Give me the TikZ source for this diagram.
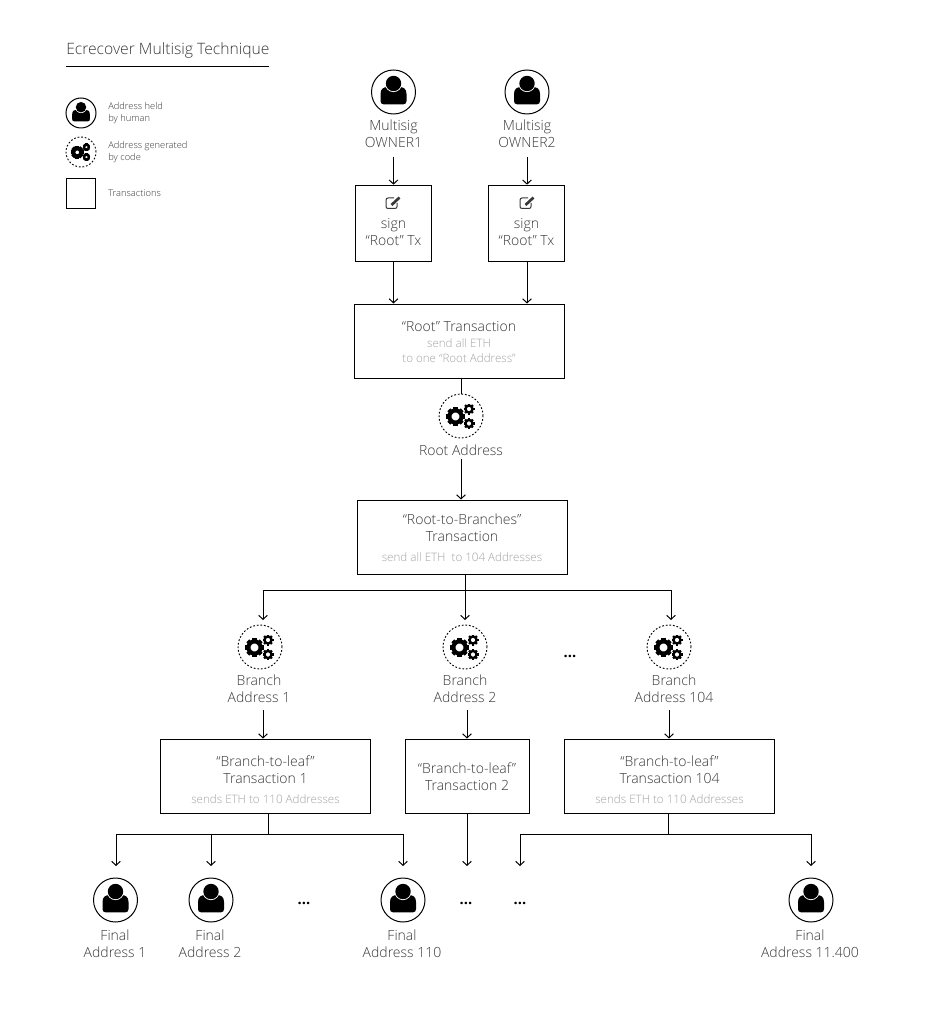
\documentclass[tikz,border=0pt]{standalone}
\usepackage{fontspec}
\setmainfont{Open Sans Light}
\newfontfamily\dotsfont{Open Sans Bold}
\usetikzlibrary{arrows.meta,positioning,calc}
\definecolor{inkgray}{HTML}{383838}
\definecolor{subgray}{HTML}{A4A4A4}
\newcommand{\drawcog}[3]{%
  \draw[line width=#3*0.32pt,black] (#1,#2) circle ({#3*0.64});
  \foreach \toothang in {0,45,...,315}
    \draw[line width=#3*0.32pt,black] ([shift={(\toothang:#3*0.7)}]#1,#2) -- ([shift={(\toothang:#3)}]#1,#2);
}
\tikzset{
    x=0.75pt, y=-0.75pt,
    >={Straight Barb[length=3pt,width=6.5pt]},
    every node/.style={text=inkgray,font=\fontsize{10.5}{12.75}\selectfont,inner sep=0pt,align=center},
    linksty/.style={line width=0.75pt},
    txsty/.style={draw=black,line width=0.75pt,rectangle,fill=white,anchor=center},
    humansty/.style={draw=black,line width=0.75pt,circle,minimum size=33pt},
    codesty/.style={draw=black,line width=0.7pt,circle,minimum size=33pt,dash pattern=on 1.3pt off 1.4pt},
    smallsty/.style={minimum size=22.5pt},
    keysty/.style={anchor=west,text=inkgray,font=\fontsize{7}{9}\selectfont},
    dotssty/.style={font=\dotsfont\fontsize{11}{12}\selectfont,text=black},
    humanicon/.pic={
      \fill[black] (-10,12.3) .. controls (-12,12.3) and (-13,11) .. (-13,9) -- (-13,2) .. controls (-13,-3) and (-10,-5) .. (-6,-5) -- (6,-5) .. controls (10,-5) and (13,-3) .. (13,2) -- (13,9) .. controls (13,11) and (12,12.3) .. (10,12.3) -- cycle;
      \fill[white] (0,-8.5) circle (8.6);
      \fill[black] (0,-8.5) circle (7.7);
    },
    gearicon/.pic={
      \drawcog{-5.5}{0.5}{9.5}
      \drawcog{8}{-7}{5.5}
      \drawcog{8}{7.5}{5.5}
    },
    editicon/.pic={
      \draw[line width=0.75pt,inkgray,rounded corners=1.5] (1,-5) -- (-7,-5) -- (-7,5.5) -- (4,5.5) -- (4,0);
      \draw[line width=2pt,inkgray] (-1.5,2) -- (6.5,-5.5);
    },
}
\newcommand{\sublabel}[1]{{\color{subgray}\fontsize{8.7}{11}\selectfont #1}}
\begin{document}
\begin{tikzpicture}
  \useasboundingbox (0,0) rectangle (945,1030);

  % heading and key
  \node (title) [anchor=west,font=\fontsize{11.75}{14}\selectfont] at (66,50) {Ecrecover Multisig Technique};
  \coordinate (ruleL) at (66,67);
  \coordinate (ruleR) at (269,67);
  \draw[linksty] (ruleL) -- (ruleR);
  \node (keyhuman) [humansty,smallsty] at (81,113) {};
  \pic[scale=0.68] at (keyhuman) {humanicon};
  \node (keycode) [codesty,smallsty] at (81,152) {};
  \pic[scale=0.68] at (keycode) {gearicon};
  \node (keytx) [txsty,minimum size=22pt] at (81,193.5) {};
  \node (keyhumantxt) [keysty,align=left] at (108,113.5) {Address held\\by human};
  \node (keycodetxt) [keysty,align=left] at (108,152.5) {Address generated\\by code};
  \node (keytxtxt) [keysty] at (108,193) {Transactions};

  % owners
  \node (ownerA) [humansty] at (393.5,92) {};
  \pic at (ownerA) {humanicon};
  \node (ownerB) [humansty] at (527,92) {};
  \pic at (ownerB) {humanicon};
  \node (ownerAtxt) at (393.5,133.5) {Multisig\\OWNER1};
  \node (ownerBtxt) at (527,133.5) {Multisig\\OWNER2};
  \node (signA) [txsty,minimum width=57.5pt,minimum height=57.5pt] at (393.5,223.5) {};
  \node (signB) [txsty,minimum width=57.5pt,minimum height=57.5pt] at (526.5,223.5) {};
  \pic at (393,203) {editicon};
  \pic at (527,203) {editicon};
  \node (signAtxt) at (393.5,231.8) {sign\\“Root” Tx};
  \node (signBtxt) at (526.5,231.8) {sign\\“Root” Tx};

  % root
  \node (roottx) [txsty,minimum width=157.5pt,minimum height=55.5pt] at (459,341) {};
  \node (roottxtxt) at (459,342) {“Root” Transaction\\[-0.5pt]\sublabel{send all ETH}\\[-1.5pt]\sublabel{to one “Root Address”}};
  \node (rootaddr) [codesty] at (461,416) {};
  \pic at (rootaddr) {gearicon};
  \node (rootaddrtxt) at (461,450) {Root Address};
  \node (r2btx) [txsty,minimum width=157.5pt,minimum height=55.5pt] at (462,537) {};
  \node (r2btxtxt) at (462,537.5) {“Root-to-Branches”\\Transaction\\[2.5pt]\sublabel{send all ETH\ \ to 104 Addresses}};

  % branches
  \node (gearA) [codesty] at (260,647) {};
  \pic at (gearA) {gearicon};
  \node (gearB) [codesty] at (465,647) {};
  \pic at (gearB) {gearicon};
  \node (gearC) [codesty] at (669,647) {};
  \pic at (gearC) {gearicon};
  \node (gearAtxt) at (259,688.5) {Branch\\Address 1};
  \node (gearBtxt) at (465,688.5) {Branch\\Address 2};
  \node (gearCtxt) at (674,688.5) {Branch\\Address 104};
  \node (gearDots) [dotssty] at (570,656) {...};

  \node (leafA) [txsty,minimum width=158pt,minimum height=55.5pt] at (265.5,776) {};
  \node (leafAtxt) at (265.5,780) {“Branch-to-leaf”\\Transaction 1\\[2.5pt]\sublabel{sends ETH to 110 Addresses}};
  \node (leafB) [txsty,minimum width=93pt,minimum height=55.5pt] at (467,776) {};
  \node (leafBtxt) at (467,777) {“Branch-to-leaf”\\Transaction 2};
  \node (leafC) [txsty,minimum width=158pt,minimum height=55.5pt] at (669.5,776) {};
  \node (leafCtxt) at (669.5,780) {“Branch-to-leaf”\\Transaction 104\\[2.5pt]\sublabel{sends ETH to 110 Addresses}};

  % final addresses
  \foreach \fname/\fx/\ftxtx/\ftxt in {finalA/115.5/115/Address 1,finalB/211/210/Address 2,finalC/403/402/Address 110,finalD/811/810/Address 11.400}{
    \node (\fname) [humansty] at (\fx,900) {};
    \pic at (\fname) {humanicon};
    \node (\fname txt) at (\ftxtx,943.5) {Final\\\ftxt};
  }
  \node (dotsA) [dotssty] at (304,903) {...};
  \node (dotsB) [dotssty] at (466,903) {...};
  \node (dotsC) [dotssty] at (520,903) {...};

  % connectors
  \coordinate (busRoot) at (465,590);
  \coordinate (busA) at (268,834);
  \coordinate (busC) at (668,834);
  \coordinate (stopB) at (467,866);
  \coordinate (stopC) at (520,866);
  \draw[linksty,->] (ownerA |- 0,157) -- (signA.north -| ownerA);
  \draw[linksty,->] (ownerB |- 0,157) -- (signB.north -| ownerB);
  \draw[linksty,->] (signA.south -| ownerA) -- (roottx.north -| ownerA);
  \draw[linksty,->] (signB.south -| ownerB) -- (roottx.north -| ownerB);
  \draw[linksty] (roottx.south -| rootaddr) -- (rootaddr.north);
  \draw[linksty,->] (rootaddr |- 0,459) -- (r2btx.north -| rootaddr);
  \draw[linksty] (r2btx.south -| busRoot) -- (busRoot);
  \draw[linksty,->] (busRoot) -| (263,620);
  \draw[linksty,->] (busRoot) -- (465,620);
  \draw[linksty,->] (busRoot) -| (671,620);
  \draw[linksty,->] (263,710) -- (leafA.north -| 263,0);
  \draw[linksty,->] (467,710) -- (leafB.north);
  \draw[linksty,->] (669,710) -- (leafC.north -| 669,0);
  \draw[linksty] (leafA.south -| busA) -- (busA);
  \draw[linksty,->] (busA) -| (116,866);
  \draw[linksty,->] (busA -| finalB) -- (finalB |- stopB);
  \draw[linksty,->] (busA) -| (finalC |- stopB);
  \draw[linksty,->] (leafB.south) -- (stopB);
  \draw[linksty] (leafC.south -| busC) -- (busC);
  \draw[linksty,->] (busC) -| (stopC);
  \draw[linksty,->] (busC) -| (finalD |- stopC);
\end{tikzpicture}
\end{document}
